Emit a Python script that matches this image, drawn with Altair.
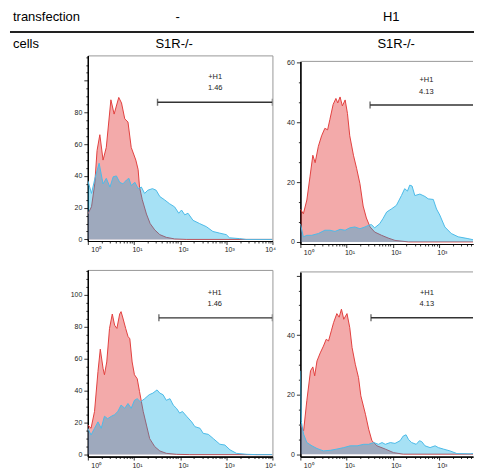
import altair as alt
import pandas as pd
import numpy as np

FONT = "Liberation Sans"

# ---------------- header texts ----------------
ROW1 = ["transfection", "-", "H1"]
ROW2 = ["cells", "S1R-/-", "S1R-/-"]

# ---------------- histogram data (x = log10 fluorescence, y = count) ----------------
p1_red_x = [0.0, 0.08, 0.15, 0.2, 0.26, 0.33, 0.40, 0.50, 0.57, 0.67, 0.73, 0.80, 0.87, 0.94, 1.04, 1.09, 1.12,
            1.18, 1.27, 1.35, 1.45, 1.56, 1.70, 1.88, 2.13, 4.0]
p1_red_y = [16, 20.6, 35, 56, 66, 50, 58, 88, 79, 89.5, 86, 76, 74, 58, 50, 44, 33,
            25, 16, 10, 6, 3, 1.3, 0.3, 0, 0]
p1_blue_x = [0.0, 0.08, 0.15, 0.245, 0.33, 0.40, 0.48, 0.55, 0.62, 0.69, 0.76, 0.84, 0.89, 0.94, 1.02, 1.09,
             1.16, 1.23, 1.30, 1.40, 1.48, 1.56, 1.66, 1.77, 1.88, 1.97, 2.03, 2.10, 2.17, 2.28, 2.42, 2.57,
             2.71, 2.85, 3.0, 3.07, 3.29, 3.43, 4.0]
p1_blue_y = [37, 29, 38, 48, 35, 38.5, 33, 39.5, 40, 36, 35, 37.5, 38.5, 34, 36, 32,
             33, 29, 31, 32, 31, 27, 25, 22.5, 20.5, 16.5, 18.5, 15.5, 16.5, 12, 10, 8,
             5, 4, 3, 1, 0.5, 0, 0]

p2_red_x = [0, 0.065, 0.14, 0.21, 0.27, 0.32, 0.39, 0.46, 0.53, 0.59, 0.64, 0.71, 0.77, 0.81, 0.86, 0.91, 0.97,
            1.02, 1.07, 1.15, 1.22, 1.29, 1.36, 1.43, 1.51, 1.61, 1.76, 1.90, 2.05, 2.34, 4.0]
p2_red_y = [11, 9.4, 14, 22, 29, 26.5, 32, 35.5, 38, 37.5, 41, 46, 48, 46.5, 48.5, 45.5, 47.5,
            43, 35.5, 29, 24.5, 19.5, 12, 8, 5, 3.3, 2.2, 1.3, 0.5, 0, 0]
p2_blue_x = [0, 0.065, 0.14, 0.245, 0.39, 0.53, 0.64, 0.75, 0.86, 0.97, 1.07, 1.18, 1.29, 1.40, 1.47, 1.54,
             1.61, 1.72, 1.79, 1.87, 1.97, 2.08, 2.19, 2.26, 2.32, 2.37, 2.42, 2.48, 2.59, 2.70, 2.77, 2.88,
             2.95, 3.02, 3.13, 3.27, 3.42, 3.63, 3.81, 3.92, 4.0]
p2_blue_y = [6, 1.7, 2.2, 2.2, 2.8, 3.9, 3.9, 3.5, 4.2, 3.9, 4.7, 5, 4.4, 5, 5.5, 5.8,
             4.7, 6.1, 7.8, 10, 11, 12.2, 15.5, 17.8, 17, 19, 18.7, 15.5, 16, 15.2, 14.4, 14.2,
             11, 9, 5, 2.8, 1.7, 1.1, 0.5, 2, 3]

p3_red_x = [0, 0.07, 0.145, 0.22, 0.27, 0.33, 0.36, 0.41, 0.47, 0.53, 0.58, 0.63, 0.69, 0.72, 0.76, 0.82, 0.87,
            0.91, 0.96, 1.01, 1.07, 1.12, 1.20, 1.27, 1.34, 1.45, 1.56, 1.70, 1.92, 2.21, 4.0]
p3_red_y = [18.5, 16.5, 27, 52, 66, 54, 50, 58, 79, 88, 81, 79, 88, 89.5, 85.5, 79, 74,
            72.5, 58, 50, 47.5, 39.5, 27, 18.5, 10, 5, 2.3, 0.8, 0.2, 0, 0]
p3_blue_x = [0, 0.07, 0.145, 0.22, 0.29, 0.36, 0.43, 0.51, 0.58, 0.65, 0.72, 0.80, 0.87, 0.94, 1.01, 1.07,
             1.14, 1.23, 1.33, 1.41, 1.50, 1.56, 1.63, 1.70, 1.78, 1.85, 1.92, 1.99, 2.05, 2.14, 2.25, 2.32,
             2.43, 2.50, 2.61, 2.72, 2.86, 2.97, 3.08, 3.22, 3.44, 3.66, 4.0]
p3_blue_y = [16.5, 12.3, 16.5, 20.5, 16.5, 24, 22.5, 24, 25, 27, 31, 29, 32, 29, 34, 35,
             33, 35, 37.5, 38.5, 40.5, 38.5, 37.5, 34, 35, 31, 29, 26, 27, 24, 20.5, 17.5,
             16.5, 13.3, 12.7, 10, 6.5, 6, 3, 0.8, 0.2, 0, 0]

p4_red_x = [0, 0.07, 0.14, 0.22, 0.27, 0.31, 0.36, 0.43, 0.50, 0.56, 0.61, 0.67, 0.72, 0.79, 0.84, 0.89, 0.94,
            1.01, 1.07, 1.12, 1.19, 1.26, 1.31, 1.41, 1.48, 1.55, 1.66, 1.84, 2.02, 2.23, 4.0]
p4_red_y = [10, 7.8, 18, 28, 29.3, 26.3, 31.3, 34, 36.3, 38.6, 38, 41.4, 44.2, 47.2, 46, 48.7, 45.3,
            47.2, 42.5, 35.8, 30.2, 25.7, 19.6, 13.4, 8.4, 4.5, 2.8, 1.7, 0.5, 0, 0]
p4_blue_x = [0, 0.02, 0.07, 0.14, 0.25, 0.36, 0.50, 0.65, 0.79, 0.94, 1.08, 1.23, 1.37, 1.48, 1.59, 1.69,
             1.77, 1.84, 1.95, 2.05, 2.16, 2.23, 2.29, 2.34, 2.41, 2.51, 2.58, 2.63, 2.70, 2.81, 2.92, 2.99,
             3.10, 3.24, 3.39, 3.68, 3.89, 3.96, 4.0]
p4_blue_y = [28, 11, 6.7, 3.9, 2.8, 1.9, 1.1, 1.3, 1.7, 2.2, 2.8, 2.8, 3.3, 3.3, 3.9, 3.3,
             3.9, 3.3, 3.9, 3.6, 4.5, 6.1, 6.5, 5, 3.9, 3.3, 4.5, 4.2, 2.8, 2.2, 2.8, 2.2,
             1.7, 1.1, 0.2, 0.1, 0.5, 1.1, 1.5]

# gates: [start, end, level]; label position [x, y of name, y of percentage]
GATE_NAME = "+H1"
p1_gate = [1.51, 4.0, 86.5]; p1_pct = "1.46"; p1_lbl = [2.76, 102.5, 95.6]
p2_gate = [1.51, 4.0, 45.8]; p2_pct = "4.13"; p2_lbl = [2.73, 54.1, 50.2]
p3_gate = [1.54, 4.0, 85.6]; p3_pct = "1.46"; p3_lbl = [2.75, 101, 94]
p4_gate = [1.53, 4.0, 45.8]; p4_pct = "4.13"; p4_lbl = [2.74, 54.2, 50.3]

RED = "#dd0c0c"
BLUE = "#00a9e2"
RED_LINE = "#e2403f"
BLUE_LINE = "#4cbbe8"
FRAME = "#999999"

SUP = ["10\u2070", "10\u00b9", "10\u00b2", "10\u00b3", "10\u2074"]
DECADE = 46.25  # px per decade


def panel(rx, ry, bx, by, ydom, ymajors, ylabels, ystep, gate, pct, lbl, w, h, ext, open_right=False):
    xmax = w / DECADE
    red = pd.DataFrame({"lx": rx, "n": ry})
    blue = pd.DataFrame({"lx": bx, "n": by})
    xs = alt.Scale(domain=[0, xmax], nice=False, zero=False)
    ys = alt.Scale(domain=ydom, nice=False, zero=False)

    x_major = [d for d in range(5) if d <= xmax + 1e-9]
    x_minor = [round(d + float(np.log10(k)), 5) for d in range(4) for k in range(2, 10)
               if d + np.log10(k) <= xmax + 1e-9]
    y_minor = []
    v = 0.0
    while v <= ydom[1] + 1e-6:
        if all(abs(v - m) > 1e-6 for m in ymajors):
            y_minor.append(round(v, 4))
        v += ystep
    y_major = [m for m in ymajors if m <= ydom[1]]

    sup_arr = "[" + ",".join("'" + s + "'" for s in SUP) + "]"
    common = dict(grid=False, domainColor="black", domainWidth=1.2, tickColor="black", tickWidth=0.8,
                  labelFont=FONT, labelFontSize=7, labelColor="#222", title=None)
    xaxis_major = alt.Axis(values=x_major, orient="bottom",
                           labelExpr=sup_arr + "[round(datum.value)]",
                           tickSize=3.5, labelPadding=1, labelOffset=3, labelOverlap=False,
                           minExtent=12, maxExtent=12, **common)
    xaxis_minor = alt.Axis(values=x_minor, orient="bottom", labels=False, tickSize=2,
                           minExtent=12, maxExtent=12, **common)
    lab_arr = "[" + ",".join(str(m) for m in ylabels) + "]"
    yaxis_major = alt.Axis(values=y_major, orient="left",
                           labelExpr="indexof(" + lab_arr + ", datum.value) >= 0 ? datum.label : ''",
                           tickSize=4, labelPadding=2, labelOverlap=False,
                           minExtent=ext, maxExtent=ext, **common)
    yaxis_minor = alt.Axis(values=y_minor, orient="left", labels=False, tickSize=2,
                           minExtent=ext, maxExtent=ext, **common)

    red_area = alt.Chart(red).mark_area(fill=RED, fillOpacity=0.35, interpolate="linear", clip=True).encode(
        x=alt.X("lx:Q", scale=xs, axis=xaxis_major), y=alt.Y("n:Q", scale=ys, axis=yaxis_major))
    red_line = alt.Chart(red).mark_line(color=RED_LINE, strokeWidth=1, interpolate="linear", clip=True).encode(
        x=alt.X("lx:Q", scale=xs, axis=xaxis_minor), y=alt.Y("n:Q", scale=ys, axis=yaxis_minor))
    blue_area = alt.Chart(blue).mark_area(fill=BLUE, fillOpacity=0.35, interpolate="linear", clip=True).encode(
        x=alt.X("lx:Q", scale=xs, axis=None), y=alt.Y("n:Q", scale=ys, axis=None))
    blue_line = alt.Chart(blue).mark_line(color=BLUE_LINE, strokeWidth=1, interpolate="linear", clip=True).encode(
        x=alt.X("lx:Q", scale=xs, axis=None), y=alt.Y("n:Q", scale=ys, axis=None))

    gdf = pd.DataFrame({"x1": [gate[0]], "x2": [gate[1]], "y": [gate[2]]})
    gate_rule = alt.Chart(gdf).mark_rule(color="#333", strokeWidth=1.4, clip=True).encode(
        x=alt.X("x1:Q", scale=xs, axis=None), x2="x2:Q", y=alt.Y("y:Q", scale=ys, axis=None))
    ends = pd.DataFrame({"x": [gate[0], gate[1]], "y": [gate[2], gate[2]]})
    gate_ticks = alt.Chart(ends).mark_tick(color="#333", orient="vertical", size=7, thickness=1.4,
                                           clip=True).encode(
        x=alt.X("x:Q", scale=xs, axis=None), y=alt.Y("y:Q", scale=ys, axis=None))
    tdf = pd.DataFrame({"x": [lbl[0], lbl[0]], "y": [lbl[1], lbl[2]], "t": [GATE_NAME, pct]})
    texts = alt.Chart(tdf).mark_text(font=FONT, fontSize=7.5, color="#222", baseline="middle",
                                     align="center").encode(
        x=alt.X("x:Q", scale=xs, axis=None), y=alt.Y("y:Q", scale=ys, axis=None), text="t:N")

    layers = [red_area, red_line, blue_area, blue_line, gate_rule, gate_ticks, texts]
    if open_right:
        top = alt.Chart(pd.DataFrame({"k": [0]})).mark_rule(color=FRAME, strokeWidth=1).encode(
            x=alt.value(0), x2=alt.value(w), y=alt.value(0))
        layers.append(top)
        view = alt.ViewBackground(stroke="transparent")
    else:
        view = alt.ViewBackground(stroke=FRAME, strokeWidth=1)
    return alt.layer(*layers).resolve_axis(x="independent", y="independent").properties(
        width=w, height=h, view=view)


EXT_L = 79
EXT_R = 23
p1 = panel(p1_red_x, p1_red_y, p1_blue_x, p1_blue_y, [-1, 116], [0, 20, 40, 60, 80, 100], [0, 20, 40, 60, 80], 5,
           p1_gate, p1_pct, p1_lbl, 185, 186, EXT_L)
p3 = panel(p3_red_x, p3_red_y, p3_blue_x, p3_blue_y, [-1.2, 115.6], [0, 20, 40, 60, 80, 100],
           [0, 20, 40, 60, 80, 100], 5, p3_gate, p3_pct, p3_lbl, 185, 187, EXT_L)
p2 = panel(p2_red_x, p2_red_y, p2_blue_x, p2_blue_y, [-0.7, 60.4], [0, 20, 40, 60], [0, 20, 40, 60], 20 / 3,
           p2_gate, p2_pct, p2_lbl, 173, 183, EXT_R, open_right=True)
p4 = panel(p4_red_x, p4_red_y, p4_blue_x, p4_blue_y, [-0.8, 61.2], [0, 20, 40, 60], [0, 20, 40], 5,
           p4_gate, p4_pct, p4_lbl, 173, 185, EXT_R, open_right=True)

# ---------------- header (positions relative to the left plot's origin) ----------------
hbase = alt.Chart(pd.DataFrame({"k": [0]}))


def htext(t, x, y, align):
    return hbase.mark_text(text=t, align=align, baseline="middle", font=FONT, fontSize=13, color="black").encode(
        x=alt.value(x), y=alt.value(y))


header = alt.layer(
    htext(ROW1[0], -75, 8, "left"),
    htext(ROW1[1], 90, 8, "center"),
    htext(ROW1[2], 304, 8, "center"),
    hbase.mark_rule(color="#222", strokeWidth=2).encode(x=alt.value(-78), x2=alt.value(387), y=alt.value(22.5)),
    htext(ROW2[0], -75, 35, "left"),
    htext(ROW2[1], 86.5, 35, "center"),
    htext(ROW2[2], 309, 35, "center"),
).properties(width=200, height=44, view=alt.ViewBackground(stroke="transparent"))

spacer = alt.Chart(pd.DataFrame({"k": [0]})).mark_rule(color="white", strokeWidth=0.5).encode(
    x=alt.value(0), x2=alt.value(1), y=alt.value(0)).properties(
    width=1, height=1.5, view=alt.ViewBackground(stroke="transparent"))

left = alt.vconcat(p1, p3, spacing=15)
right = alt.vconcat(spacer, alt.vconcat(p2, p4, spacing=14), spacing=0)
body = alt.hconcat(left, right, spacing=0)
chart = alt.vconcat(header, body, spacing=0).properties(padding=0).configure(padding=0)

chart.save("out.html", embed_options={"renderer": "svg", "actions": False})
